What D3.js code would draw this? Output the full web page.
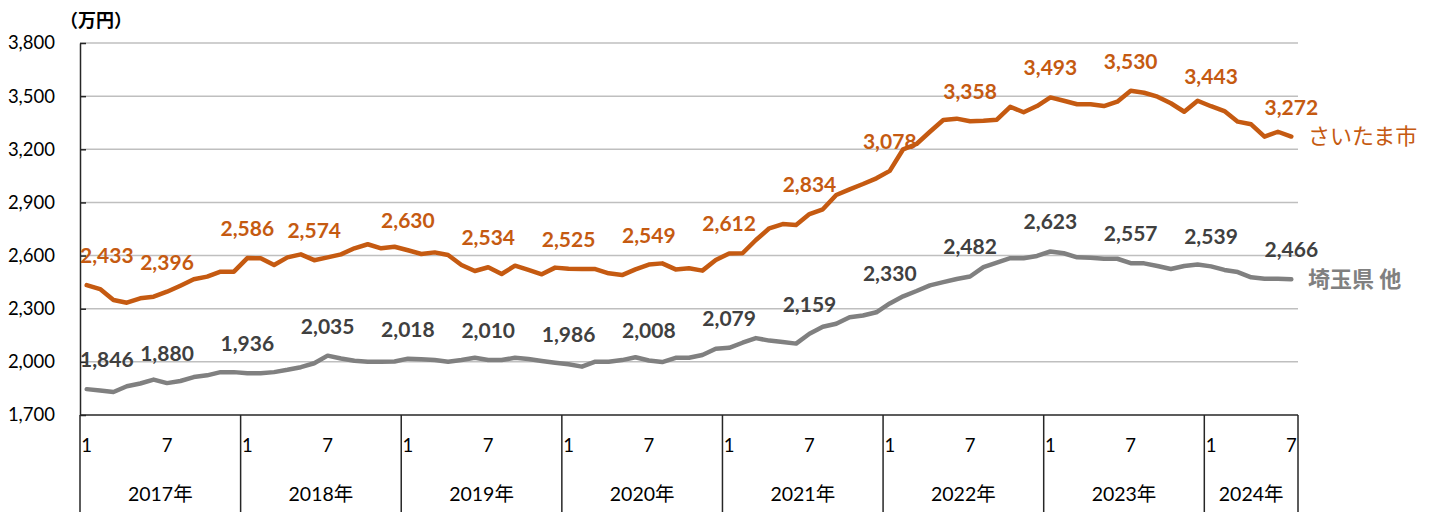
<!DOCTYPE html>
<html>
<head>
<meta charset="utf-8">
<script src="https://cdn.jsdelivr.net/npm/d3@7"></script>
<style>
    body { margin: 0; background: #fff; }
    text { font-family: Lato, "Noto Sans CJK JP", sans-serif; }
</style>
</head>
<body>
<div id="chart-area"></div>
<script>
/* * * * * * * * * * * * * *
*   price trend lines      *
* * * * * * * * * * * * * */

// year groups on the axis, and how many months each one holds
const years = ["2017年", "2018年", "2019年", "2020年", "2021年", "2022年", "2023年", "2024年"];
const monthsPerYear = [12, 12, 12, 12, 12, 12, 12, 7];
const shownMonths = [1, 7];

// y axis ticks (万円)
const yTicks = [1700, 2000, 2300, 2600, 2900, 3200, 3500, 3800];

// さいたま市, Jan 2017 - Jul 2024
const cityValues = [
    2433, 2411, 2349, 2334, 2359, 2368, 2396, 2430, 2466, 2481, 2509, 2509,
    2586, 2585, 2547, 2590, 2607, 2574, 2590, 2607, 2641, 2664, 2641, 2650,
    2630, 2609, 2618, 2603, 2547, 2513, 2534, 2496, 2543, 2519, 2494, 2532,
    2525, 2524, 2524, 2500, 2490, 2522, 2549, 2556, 2522, 2528, 2515, 2575,
    2612, 2613, 2688, 2754, 2778, 2773, 2834, 2861, 2942, 2974, 3004, 3036,
    3078, 3200, 3230, 3299, 3365, 3373, 3358, 3361, 3367, 3440, 3409, 3444,
    3493, 3474, 3454, 3454, 3444, 3469, 3530, 3519, 3497, 3460, 3412, 3474,
    3443, 3416, 3356, 3341, 3271, 3299, 3272
];

// 埼玉県 他, Jan 2017 - Jul 2024
const otherValues = [
    1846, 1838, 1830, 1862, 1878, 1900, 1880, 1892, 1914, 1924, 1942, 1942,
    1936, 1936, 1942, 1955, 1970, 1992, 2035, 2019, 2006, 2000, 2000, 2002,
    2018, 2015, 2010, 2001, 2010, 2023, 2010, 2010, 2023, 2016, 2005, 1995,
    1986, 1973, 2001, 2001, 2010, 2026, 2008, 1999, 2023, 2023, 2039, 2074,
    2079, 2108, 2134, 2120, 2112, 2103, 2159, 2198, 2215, 2252, 2262, 2280,
    2330, 2370, 2400, 2432, 2450, 2468, 2482, 2535, 2560, 2585, 2585, 2598,
    2623, 2613, 2590, 2588, 2582, 2582, 2557, 2556, 2541, 2524, 2541, 2550,
    2539, 2519, 2507, 2477, 2469, 2469, 2466
];

// which months carry a value label
const cityLabelIndex = [0, 6, 12, 17, 24, 30, 36, 42, 48, 54, 60, 66, 72, 78, 84, 90];
const otherLabelIndex = [0, 6, 12, 18, 24, 30, 36, 42, 48, 54, 60, 66, 72, 78, 84, 90];

class PriceTrendVis {

    /* Constructor method */
    constructor(parentElement) {
        this.parentElement = parentElement;
        this.series = [
            {name: "さいたま市", values: cityValues, labels: cityLabelIndex,
                color: "#C55A11", labelColor: "#C55A11", nameColor: "#C55A11", nameWeight: "normal"},
            {name: "埼玉県 他", values: otherValues, labels: otherLabelIndex,
                color: "#808080", labelColor: "#404040", nameColor: "#808080", nameWeight: "bold"}
        ];

        this.initVis();
    }

    /* Initialize visualization */
    initVis() {
        let vis = this;

        vis.margin = {top: 43, left: 80, right: 136, bottom: 97};
        vis.width = 1434 - vis.margin.left - vis.margin.right;
        vis.height = 512 - vis.margin.top - vis.margin.bottom;

        vis.svg = d3.select("#" + vis.parentElement).append("svg")
            .attr("width", 1434)
            .attr("height", 512)
            .append("g")
            .attr("transform", `translate(${vis.margin.left}, ${vis.margin.top})`);

        vis.wrangleData();
    }

    /* Data wrangling */
    wrangleData() {
        let vis = this;

        // one category per month, grouped by year
        vis.categories = [];
        years.forEach((y, yi) => {
            for (let m = 1; m <= monthsPerYear[yi]; m++) {
                vis.categories.push({key: y + "-" + m, year: y, month: m, yearIndex: yi});
            }
        });

        vis.updateVis();
    }

    /* Update visualization */
    updateVis() {
        let vis = this;

        vis.x = d3.scaleBand()
            .domain(vis.categories.map(d => d.key))
            .range([0, vis.width]);

        vis.y = d3.scaleLinear()
            .domain([yTicks[0], yTicks[yTicks.length - 1]])
            .range([vis.height, 0]);

        let cx = i => vis.x(vis.categories[i].key) + vis.x.bandwidth() / 2;

        // gridlines
        vis.svg.append("g")
            .attr("class", "grid")
            .selectAll("line").data(yTicks.slice(1))
            .enter().append("line")
            .attr("x1", 0).attr("x2", vis.width)
            .attr("y1", d => vis.y(d)).attr("y2", d => vis.y(d))
            .style("stroke", "#BFBFBF")
            .style("stroke-width", 1.5);

        // y axis
        let yAxis = d3.axisLeft(vis.y)
            .tickValues(yTicks)
            .tickFormat(d3.format(","))
            .tickSizeInner(-6)
            .tickSizeOuter(0)
            .tickPadding(25);

        let yg = vis.svg.append("g").attr("class", "y-axis").call(yAxis);
        yg.select(".domain").style("stroke", "#262626").style("stroke-width", 1.5);
        yg.selectAll(".tick line").style("stroke", "#262626").style("stroke-width", 1.5);
        yg.selectAll(".tick text")
            .style("font-size", "18.5px")
            .style("fill", "#000");

        // unit
        vis.svg.append("text")
            .text("（万円）")
            .attr("x", -20)
            .attr("y", -16)
            .style("font-size", "18px")
            .style("font-weight", "bold")
            .style("fill", "#000");

        // x axis: baseline, year separators, month and year labels
        let xg = vis.svg.append("g")
            .attr("class", "x-axis")
            .attr("transform", `translate(0, ${vis.height})`);

        xg.append("line")
            .attr("x1", 0).attr("x2", vis.width)
            .style("stroke", "#262626")
            .style("stroke-width", 1.5);

        let yearStarts = vis.categories.filter(d => d.month === 1);
        let bounds = yearStarts.map(d => vis.x(d.key)).concat([vis.width]);

        xg.selectAll(".year-sep").data(bounds)
            .enter().append("line")
            .attr("class", "year-sep")
            .attr("x1", d => d).attr("x2", d => d)
            .attr("y1", 0).attr("y2", vis.margin.bottom)
            .style("stroke", "#262626")
            .style("stroke-width", 1.5);

        xg.selectAll(".month-label")
            .data(vis.categories.filter(d => shownMonths.includes(d.month)))
            .enter().append("text")
            .attr("class", "month-label")
            .attr("x", d => vis.x(d.key) + vis.x.bandwidth() / 2)
            .attr("y", 37)
            .attr("text-anchor", "middle")
            .style("font-size", "18.5px")
            .style("fill", "#000")
            .text(d => d.month);

        xg.selectAll(".year-label").data(years)
            .enter().append("text")
            .attr("class", "year-label")
            .attr("x", (d, i) => (bounds[i] + bounds[i + 1]) / 2)
            .attr("y", 86)
            .attr("text-anchor", "middle")
            .style("font-size", "19.5px")
            .style("fill", "#000")
            .text(d => d);

        // lines
        let line = d3.line()
            .x((d, i) => cx(i))
            .y(d => vis.y(d));

        vis.series.forEach(s => {
            vis.svg.append("path")
                .datum(s.values)
                .attr("d", line)
                .style("fill", "none")
                .style("stroke", s.color)
                .style("stroke-width", 4.5)
                .style("stroke-linejoin", "round")
                .style("stroke-linecap", "round");
        });

        // value labels
        vis.series.forEach(s => {
            vis.svg.append("g")
                .selectAll("text").data(s.labels)
                .enter().append("text")
                .attr("x", i => cx(i))
                .attr("y", i => vis.y(s.values[i]) - 22)
                .attr("text-anchor", "middle")
                .style("font-size", "21px")
                .style("font-weight", "bold")
                .style("fill", s.labelColor)
                .text(i => d3.format(",")(s.values[i]))
                .each(function () {
                    // keep the label inside the plot on the left
                    let w = this.getComputedTextLength();
                    let x = +d3.select(this).attr("x");
                    if (x - w / 2 < 0) d3.select(this).attr("x", w / 2);
                });
        });

        // series names at the line ends
        vis.series.forEach(s => {
            let last = s.values.length - 1;
            vis.svg.append("text")
                .text(s.name)
                .attr("x", vis.width + 10)
                .attr("y", vis.y(s.values[last]))
                .attr("dy", "0.36em")
                .style("font-size", "22px")
                .style("font-weight", s.nameWeight)
                .style("fill", s.nameColor);
        });
    }
}

new PriceTrendVis("chart-area");
</script>
</body>
</html>
